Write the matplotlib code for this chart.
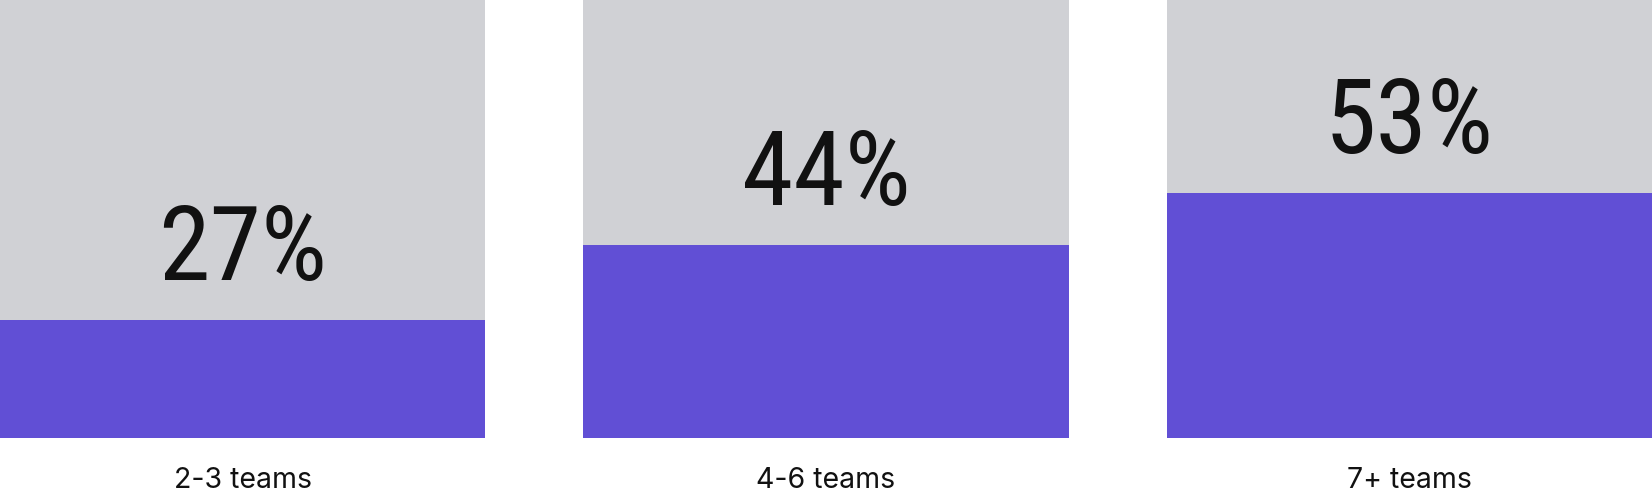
import matplotlib
matplotlib.use('Agg')
import matplotlib.pyplot as plt

categories = ['2-3 teams', '4-6 teams', '7+ teams']
percent_labels = ['27%', '44%', '53%']
bar_fill = [27, 44, 56]
full_scale = [100, 100, 100]

GRAY = '#D0D1D5'
PURPLE = '#614FD5'
TEXT = '#111111'

fig = plt.figure(figsize=(16.52, 4.94), dpi=100)
ax = fig.add_axes([0, 56 / 494, 1, 438 / 494])
w = 485 / 583
x = list(range(len(categories)))
ax.bar(x, full_scale, width=w, color=GRAY, linewidth=0)
ax.bar(x, bar_fill, width=w, color=PURPLE, linewidth=0)
ax.set_xlim(-w / 2, len(categories) - 1 + w / 2)
ax.set_ylim(0, 100)
ax.axis('off')

big_family = ['Liberation Sans Narrow', 'Roboto Condensed', 'Inter', 'DejaVu Sans']
for xi, h, lab in zip(x, bar_fill, percent_labels):
    ax.annotate(lab, (xi, h), xytext=(0, 28.8), textcoords='offset points',
                ha='center', va='baseline', fontsize=75, family=big_family,
                fontweight='normal', color=TEXT)

for xi, cat in zip(x, categories):
    ax.annotate(cat, (xi, 0), xytext=(0, -36), textcoords='offset points',
                ha='center', va='baseline', fontsize=20.5,
                family=['Inter', 'DejaVu Sans'], color=TEXT,
                annotation_clip=False)

fig.savefig('out.png', dpi=100, facecolor='white')
